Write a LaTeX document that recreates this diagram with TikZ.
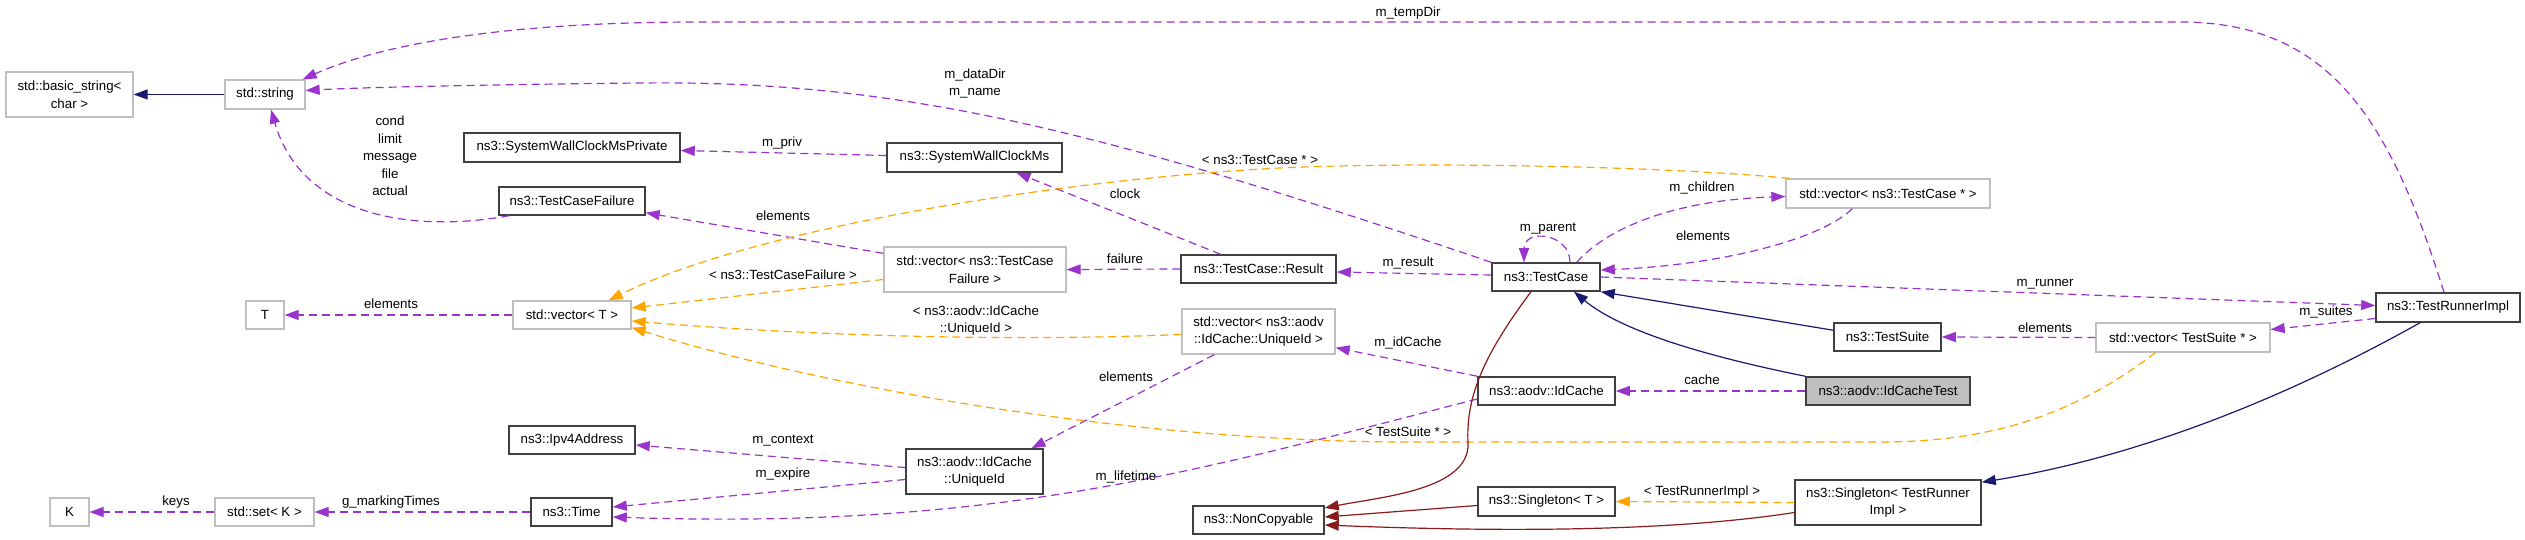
\documentclass[tikz,border=0pt]{standalone}
\usepackage{fontspec}
\setmainfont{Liberation Sans}
\usetikzlibrary{arrows.meta,calc}
\definecolor{purp}{HTML}{9A32CD}
\definecolor{orng}{HTML}{FFA500}
\definecolor{navyc}{HTML}{191970}
\definecolor{firec}{HTML}{8B1A1A}
\definecolor{boxgrey}{HTML}{BFBFBF}
\definecolor{boxdark}{HTML}{404040}
\begin{document}
\begin{tikzpicture}[x=1pt,y=-1pt,
  txt/.style={font=\fontsize{13.3}{17.5}\selectfont},
  box/.style={txt, rectangle, draw=boxdark, line width=1.5pt, inner sep=0pt, align=center, fill=white},
  gbox/.style={box, draw=boxgrey, line width=1.3pt},
  lbl/.style={txt, inner sep=0pt, align=center},
  tipA/.style={-{Triangle[length=14pt,width=10pt]}},
  purpline/.style={draw=purp, line width=1.2pt, dash pattern=on 8pt off 5pt, tipA},
  tmplline/.style={draw=orng, line width=1.2pt, dash pattern=on 8pt off 5pt, tipA},
  inhline/.style={draw=navyc, line width=1.2pt, tipA},
  ncline/.style={draw=firec, line width=1.2pt, tipA}
]
\useasboundingbox (0,0) rectangle (2525,540);
\fill[white] (0,0) rectangle (2525,540);

% ---------- nodes ----------
\node[gbox, minimum width=127pt, minimum height=45pt] (bstr) at (69.5,94.5) {std::basic\_string<\\char >};
\node[gbox, minimum width=80pt, minimum height=29pt] (str) at (265,94.5) {std::string};
\node[box, minimum width=216pt, minimum height=29pt] (swcmp) at (572,147.5) {ns3::SystemWallClockMsPrivate};
\node[box, minimum width=146pt, minimum height=28pt] (tcf) at (572,201) {ns3::TestCaseFailure};
\node[box, minimum width=175pt, minimum height=29pt] (swcm) at (974.5,157.5) {ns3::SystemWallClockMs};
\node[gbox, minimum width=182pt, minimum height=45pt] (vtcf) at (975,269.5) {std::vector< ns3::TestCase\\Failure >};
\node[box, minimum width=155pt, minimum height=28pt] (res) at (1258.5,269) {ns3::TestCase::Result};
\node[box, minimum width=108pt, minimum height=28pt] (tc) at (1546,277) {ns3::TestCase};
\node[gbox, minimum width=204pt, minimum height=29pt] (vtc) at (1888,193.5) {std::vector< ns3::TestCase * >};
\node[gbox, minimum width=38pt, minimum height=28pt] (T) at (265,315) {T};
\node[gbox, minimum width=118pt, minimum height=28pt] (vt) at (572,315) {std::vector< T >};
\node[gbox, minimum width=153pt, minimum height=45pt] (vuid) at (1258.5,331.5) {std::vector< ns3::aodv\\::IdCache::UniqueId >};
\node[box, minimum width=137pt, minimum height=45pt] (uid) at (974.5,471.5) {ns3::aodv::IdCache\\::UniqueId};
\node[box, minimum width=126pt, minimum height=28pt] (ipv4) at (572,440) {ns3::Ipv4Address};
\node[box, minimum width=81pt, minimum height=28pt] (time) at (571.5,512) {ns3::Time};
\node[gbox, minimum width=99pt, minimum height=28pt] (set) at (264.5,512) {std::set< K >};
\node[gbox, minimum width=39pt, minimum height=28pt] (K) at (69.5,512) {K};
\node[box, minimum width=131pt, minimum height=28pt] (nc) at (1258.5,520) {ns3::NonCopyable};
\node[box, minimum width=137pt, minimum height=28pt] (idc) at (1546.5,391) {ns3::aodv::IdCache};
\node[box, minimum width=137pt, minimum height=29pt] (sgT) at (1546.5,501.5) {ns3::Singleton< T >};
\node[box, fill=boxgrey, minimum width=164pt, minimum height=28pt] (idct) at (1888,391) {ns3::aodv::IdCacheTest};
\node[box, minimum width=107pt, minimum height=28pt] (ts) at (1887.5,337) {ns3::TestSuite};
\node[gbox, minimum width=174pt, minimum height=29pt] (vts) at (2183,337.5) {std::vector< TestSuite * >};
\node[box, minimum width=144pt, minimum height=29pt] (tri) at (2448,307.5) {ns3::TestRunnerImpl};
\node[box, minimum width=186pt, minimum height=45pt] (sgtri) at (1888,502.5) {ns3::Singleton< TestRunner\\Impl >};

% ---------- usage (purple dashed) ----------
\draw[purpline] ($(tcf.south west)+(11,0)$) .. controls (400,235) and (300,210) .. ($(str.south)+(6,0)$);
\draw[purpline] (tc.north west) .. controls (1100,130) and (900,80) .. (640,83) .. controls (450,85) and (350,88) .. ($(str.east)+(0,-4)$);
\draw[purpline] ($(tri.north)+(-4,0)$) .. controls (2390,120) and (2330,22) .. (2180,22) -- (700,22) .. controls (500,22) and (380,45) .. ($(str.north east)+(-3,0)$);
\draw[purpline] ($(swcm.west)+(0,-2)$) -- ($(swcmp.east)+(0,3)$);
\draw[purpline] ($(res.north)+(-38,0)$) -- ($(swcm.south)+(42,0)$);
\draw[purpline] ($(vtcf.north west)+(0,7)$) -- ($(tcf.south east)+(0,-3)$);
\draw[purpline] (res.west) -- (vtcf.east);
\draw[purpline] ($(tc.west)+(0,-2)$) -- ($(res.east)+(0,3)$);
\draw[purpline] ($(tc.north)+(24,0)$) .. controls (1570,233) and (1524,228) .. ($(tc.north)+(-22,0)$);
\draw[purpline] ($(tc.north east)+(-24,0)$) .. controls (1610,225) and (1680,200) .. ($(vtc.west)+(0,3)$);
\draw[purpline] ($(vtc.south west)+(67,0)$) .. controls (1820,240) and (1720,265) .. ($(tc.east)+(0,-7)$);
\draw[purpline] (tc.east) -- ($(tri.west)+(0,-2)$);
\draw[purpline] ($(tri.west)+(0,11)$) -- ($(vts.east)+(0,-8)$);
\draw[purpline] (vts.west) -- (ts.east);
\draw[purpline] (idc.north west) -- ($(vuid.south east)+(0,-7)$);
\draw[purpline] (idct.west) -- (idc.east);
\draw[purpline] ($(vuid.south west)+(33,0)$) -- ($(uid.north)+(57,0)$);
\draw[purpline] ($(uid.west)+(0,-4)$) -- ($(ipv4.east)+(0,5)$);
\draw[purpline] ($(uid.west)+(0,8)$) -- ($(time.east)+(0,-5)$);
\draw[purpline] ($(idc.west)+(0,8)$) .. controls (1200,470) and (1000,530) .. ($(time.east)+(0,5)$);
\draw[purpline] (time.west) -- (set.east);
\draw[purpline] (set.west) -- (K.east);
\draw[purpline] (vt.west) -- (T.east);

% ---------- template instances (orange dashed) ----------
\draw[tmplline] ($(vtc.north west)+(4,0)$) .. controls (1650,165) and (1400,162) .. (1280,168) .. controls (1050,180) and (750,230) .. ($(vt.north east)+(-23,0)$);
\draw[tmplline] ($(vtcf.west)+(0,10)$) -- ($(vt.east)+(0,-7)$);
\draw[tmplline] ($(vuid.west)+(0,3)$) .. controls (1000,342) and (800,335) .. ($(vt.east)+(0,6)$);
\draw[tmplline] ($(vts.south west)+(60,0)$) .. controls (2080,410) and (2000,442) .. (1880,442) -- (1400,442) .. controls (1100,440) and (800,380) .. ($(vt.south east)+(0,-2)$);
\draw[tmplline] (sgtri.west) -- (sgT.east);

% ---------- inheritance (navy) ----------
\draw[inhline] (str.west) -- (bstr.east);
\draw[inhline] ($(ts.north west)+(0,8)$) -- (tc.south east);
\draw[inhline] (idct.north west) .. controls (1700,355) and (1620,330) .. ($(tc.south)+(28,0)$);
\draw[inhline] ($(tri.south)+(-28,0)$) .. controls (2300,390) and (2150,455) .. ($(sgtri.north east)+(0,3)$);

% ---------- inheritance to NonCopyable (red) ----------
\draw[ncline] ($(tc.south)+(-15,0)$) .. controls (1480,360) and (1466,400) .. (1468,443) .. controls (1470,490) and (1380,497) .. ($(nc.east)+(0,-12)$);
\draw[ncline] ($(sgT.west)+(0,4)$) -- ($(nc.east)+(0,-3)$);
\draw[ncline] ($(sgtri.west)+(0,10)$) .. controls (1650,535) and (1450,530) .. ($(nc.east)+(0,5)$);

% ---------- labels ----------
\node[lbl] (l1) at (390,156) {cond\\limit\\message\\file\\actual};
\node[lbl] (l2) at (975,83.5) {m\_dataDir\\m\_name};
\node[lbl] (l3) at (1408,13) {m\_tempDir};
\node[lbl] (l4) at (782,143) {m\_priv};
\node[lbl] (l5) at (1125,194) {clock};
\node[lbl] (l6) at (783,216) {elements};
\node[lbl] (l7) at (1125,259) {failure};
\node[lbl] (l8) at (1408,263) {m\_result};
\node[lbl] (l9) at (1548,229) {m\_parent};
\node[lbl] (l10) at (1702,188) {m\_children};
\node[lbl] (l11) at (1703,236) {elements};
\node[lbl] (l12) at (2045,284) {m\_runner};
\node[lbl] (l13) at (2326,312) {m\_suites};
\node[lbl] (l14) at (2045,328) {elements};
\node[lbl] (l15) at (1408,343) {m\_idCache};
\node[lbl] (l16) at (1702,380) {cache};
\node[lbl] (l17) at (1126,377) {elements};
\node[lbl] (l18) at (783,441) {m\_context};
\node[lbl] (l19) at (783,474) {m\_expire};
\node[lbl] (l20) at (1126,477) {m\_lifetime};
\node[lbl] (l21) at (391,502) {g\_markingTimes};
\node[lbl] (l22) at (176,502) {keys};
\node[lbl] (l23) at (391,304) {elements};
\node[lbl] (l24) at (1260,160) {< ns3::TestCase * >};
\node[lbl] (l25) at (783,275) {< ns3::TestCaseFailure >};
\node[lbl] (l26) at (976,320.5) {< ns3::aodv::IdCache\\::UniqueId >};
\node[lbl] (l27) at (1408,432) {< TestSuite * >};
\node[lbl] (l28) at (1702,492) {< TestRunnerImpl >};
\end{tikzpicture}
\end{document}
